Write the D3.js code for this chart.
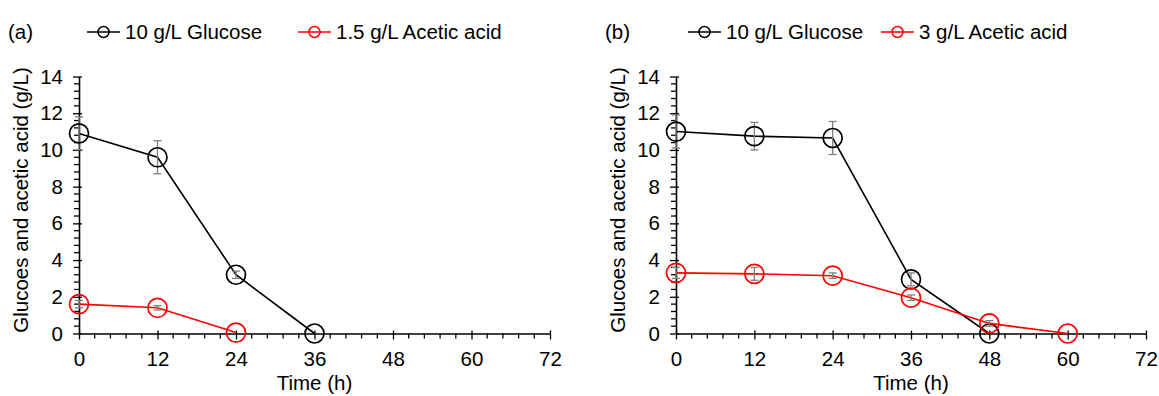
<!DOCTYPE html>
<html><head><meta charset="utf-8">
<script src="https://cdn.jsdelivr.net/npm/d3@7"></script>
<style>body{margin:0;background:#fff;} text{font-family:"Liberation Sans",Arial,sans-serif;fill:#000;}</style>
</head><body>
<svg id="c" width="1159" height="396"></svg>
<script>
const timesA = [0, 12, 24, 36];
const glucoseA = [10.9, 9.6, 3.2, 0];
const glucoseErrA = [0.9, 0.9, 0.2, 0];
const timesAcA = [0, 12, 24];
const aceticA = [1.6, 1.4, 0.05];
const aceticErrA = [0.2, 0.12, 0];

const timesB = [0, 12, 24, 36, 48];
const glucoseB = [11.0, 10.75, 10.65, 2.95, 0];
const glucoseErrB = [0.9, 0.75, 0.9, 0.35, 0];
const timesAcB = [0, 12, 24, 36, 48, 60];
const aceticB = [3.3, 3.25, 3.15, 1.95, 0.55, 0];
const aceticErrB = [0.3, 0.35, 0.15, 0.15, 0.15, 0];

const xTicks = [0, 12, 24, 36, 48, 60, 72];
const yTicks = [0, 2, 4, 6, 8, 10, 12, 14];
const panels = [
  {label: "(a)", legend: ["10 g/L Glucose", "1.5 g/L Acetic acid"],
   series: [{t: timesA, v: glucoseA, e: glucoseErrA, c: "#000"}, {t: timesAcA, v: aceticA, e: aceticErrA, c: "#ff0000"}],
   x0: 79, x1: 550, labelX: 8, legX: [87, 298], titleX: 21},
  {label: "(b)", legend: ["10 g/L Glucose", "3 g/L Acetic acid"],
   series: [{t: timesB, v: glucoseB, e: glucoseErrB, c: "#000"}, {t: timesAcB, v: aceticB, e: aceticErrB, c: "#ff0000"}],
   x0: 676, x1: 1146, labelX: 605, legX: [688, 881], titleX: 618}
];

const svg = d3.select("#c");
const FS = 20.5;
panels.forEach(p => {
  const g = svg.append("g");
  const x = d3.scaleLinear().domain([0, 72]).range([p.x0, p.x1]);
  const y = d3.scaleLinear().domain([0, 14]).range([333.5, 76.5]);

  const xMinor = d3.range(0, 72.01, 2.4).filter(v => Math.abs(v / 12 - Math.round(v / 12)) > 1e-6);
  const yMinor = d3.range(0, 14.01, 0.4).filter(v => Math.abs(v / 2 - Math.round(v / 2)) > 1e-6);
  g.selectAll(".xm").data(xMinor).join("line")
    .attr("x1", d => x(d)).attr("x2", d => x(d)).attr("y1", y(0)).attr("y2", y(0) + 5)
    .attr("stroke", "#000").attr("stroke-width", 1.3);
  g.selectAll(".ym").data(yMinor).join("line")
    .attr("x1", p.x0 - 5).attr("x2", p.x0).attr("y1", d => y(d)).attr("y2", d => y(d))
    .attr("stroke", "#000").attr("stroke-width", 1.3);

  const xAxis = d3.axisBottom(x).tickValues(xTicks).tickSize(6).tickSizeOuter(0);
  const xg = g.append("g").attr("transform", `translate(0,${y(0)})`).call(xAxis);
  const yAxis = d3.axisLeft(y).tickValues(yTicks).tickSize(6).tickSizeOuter(0);
  const yg = g.append("g").attr("transform", `translate(${p.x0},0)`).call(yAxis);
  [xg, yg].forEach(a => {
    a.attr("font-size", FS).attr("font-family", "Liberation Sans, Arial, sans-serif");
    a.select(".domain").attr("stroke", "#000").attr("stroke-width", 1.6);
    a.selectAll(".tick line").attr("stroke", "#000").attr("stroke-width", 1.3);
    a.selectAll(".tick text").attr("font-size", FS).attr("fill", "#000");
  });
  xg.selectAll(".tick line").attr("y1", -3).attr("y2", 6);
  xg.selectAll(".tick text").attr("dy", "0.71em").attr("y", 18);
  yg.selectAll(".tick line").attr("x1", 3).attr("x2", -6);
  yg.selectAll(".tick text").attr("x", -16);

  g.append("text").attr("x", (p.x0 + p.x1) / 2).attr("y", 390).attr("text-anchor", "middle").attr("font-size", FS).text("Time (h)");
  g.append("text").attr("transform", `translate(${p.titleX + 7},${200}) rotate(-90)`).attr("text-anchor", "middle").attr("font-size", FS).text("Glucoes and acetic acid (g/L)");
  g.append("text").attr("x", p.labelX).attr("y", 39).attr("font-size", FS).text(p.label);

  const line = d3.line().x(d => x(d[0])).y(d => y(d[1]));
  p.series.forEach(s => {
    const pts = s.t.map((t, i) => [t, s.v[i], s.e[i]]);
    g.append("path").datum(pts).attr("d", line).attr("fill", "none").attr("stroke", s.c).attr("stroke-width", 1.6);
    const eb = g.selectAll(null).data(pts.filter(d => d[2] > 0)).join("g").attr("stroke", "#7f7f7f").attr("stroke-width", 1.3);
    eb.append("line").attr("x1", d => x(d[0])).attr("x2", d => x(d[0])).attr("y1", d => y(d[1] - d[2])).attr("y2", d => y(d[1] + d[2]));
    eb.append("line").attr("x1", d => x(d[0]) - 4).attr("x2", d => x(d[0]) + 4).attr("y1", d => y(d[1] - d[2])).attr("y2", d => y(d[1] - d[2]));
    eb.append("line").attr("x1", d => x(d[0]) - 4).attr("x2", d => x(d[0]) + 4).attr("y1", d => y(d[1] + d[2])).attr("y2", d => y(d[1] + d[2]));
    g.selectAll(null).data(pts).join("circle").attr("cx", d => x(d[0])).attr("cy", d => y(d[1]))
      .attr("r", 9.5).attr("fill", "none").attr("stroke", s.c).attr("stroke-width", 1.7);
  });

  p.series.forEach((s, i) => {
    const lx = p.legX[i];
    g.append("line").attr("x1", lx).attr("x2", lx + 33).attr("y1", 32).attr("y2", 32).attr("stroke", s.c).attr("stroke-width", 1.6);
    g.append("circle").attr("cx", lx + 16.5).attr("cy", 32).attr("r", 5.5).attr("fill", "none").attr("stroke", s.c).attr("stroke-width", 1.5);
    g.append("text").attr("x", lx + 38).attr("y", 39).attr("font-size", FS).text(p.legend[i]);
  });
});
</script>
</body></html>
